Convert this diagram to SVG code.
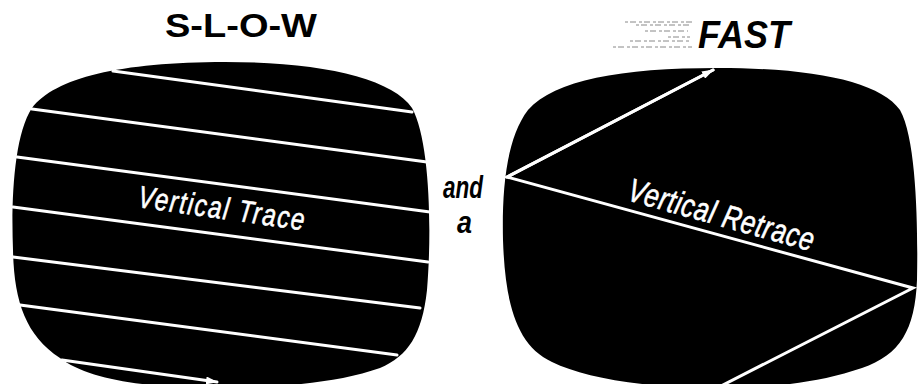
<svg xmlns="http://www.w3.org/2000/svg" width="918" height="384" viewBox="0 0 918 384">
  <style>
    .screen { fill: #000; }
    .trace { stroke: #fff; stroke-width: 3; fill: none; stroke-linecap: round; stroke-linejoin: miter; }
    .title { font-family: "Liberation Sans", Arial, sans-serif; font-weight: bold; fill: #000; }
    .label { font-family: "Liberation Sans", Arial, sans-serif; font-style: italic; fill: #fff; stroke: #fff; stroke-width: 0.6; }
    .conj { font-family: "Liberation Sans", Arial, sans-serif; font-style: italic; font-weight: bold; fill: #000; }
    .noise { stroke: #888; stroke-width: 1; stroke-dasharray: 3 2 6 3; }
  </style>
  <defs>
    <marker id="arrow" viewBox="0 0 12 8" refX="11" refY="4" markerWidth="12" markerHeight="8" markerUnits="userSpaceOnUse" orient="auto">
      <path d="M0,0 L12,4 L0,8 Z" fill="#fff"/>
    </marker>
  </defs>
  <rect width="918" height="384" fill="#fff"/>

  <g id="title-slow">
    <text class="title" x="165" y="37" font-size="34" textLength="152" lengthAdjust="spacingAndGlyphs">S-L-O-W</text>
  </g>

  <g id="title-fast">
    <g class="noise">
      <line x1="625" y1="22" x2="692" y2="22"/>
      <line x1="636" y1="25" x2="690" y2="25"/>
      <line x1="645" y1="31" x2="688" y2="31"/>
      <line x1="668" y1="37" x2="690" y2="37"/>
      <line x1="630" y1="41" x2="690" y2="41"/>
      <line x1="613" y1="47" x2="692" y2="47"/>
    </g>
    <text class="title" x="698" y="48" font-size="38" font-style="italic" textLength="92" lengthAdjust="spacingAndGlyphs">FAST</text>
  </g>

  <g id="and-a">
    <text class="conj" x="443" y="198" font-size="31" textLength="40" lengthAdjust="spacingAndGlyphs">and</text>
    <text class="conj" x="457" y="233" font-size="31" textLength="15" lengthAdjust="spacingAndGlyphs">a</text>
  </g>

  <g id="screen-slow">
    <path class="screen" d="M 225,62 C 320,62 392,78 412,108 C 430,140 432,230 427,290 C 422,335 408,356 380,368 C 335,384 270,388 215,388 C 150,388 88,380 60,358 C 25,335 14,300 13,250 C 11,200 14,135 32,108 C 55,78 120,62 225,62 Z"/>
    <g transform="translate(137 207) rotate(8) scale(0.78 1)">
      <text class="label" x="0" y="0" font-size="31" textLength="215" lengthAdjust="spacing">Vertical Trace</text>
    </g>
  </g>

  <g id="screen-fast">
    <path class="screen" d="M 718,68 C 815,68 880,82 900,110 C 917,140 918,230 917,280 C 915,330 900,355 862,368 C 815,384 765,388 718,388 C 645,388 585,378 552,362 C 515,345 505,300 503,240 C 502,195 505,140 528,110 C 555,80 620,68 718,68 Z"/>
    <g transform="translate(626 200) rotate(15.5) scale(0.78 1)">
      <text class="label" x="0" y="0" font-size="33" textLength="246" lengthAdjust="spacing">Vertical Retrace</text>
    </g>
  </g>

  <g id="connectors">
    <line class="trace" x1="113" y1="71" x2="412" y2="112"/>
    <line class="trace" x1="32" y1="109" x2="427" y2="162"/>
    <line class="trace" x1="17" y1="157" x2="430" y2="212"/>
    <line class="trace" x1="13" y1="207" x2="428" y2="262"/>
    <line class="trace" x1="13" y1="257" x2="420" y2="308"/>
    <line class="trace" x1="20" y1="305" x2="397" y2="355"/>
    <line class="trace" x1="62" y1="360" x2="217" y2="382" marker-end="url(#arrow)"/>
    <polyline class="trace" points="713,70 507,177 913,288 721,386"/>
    <line class="trace" x1="507" y1="177" x2="713" y2="70" marker-end="url(#arrow)"/>
  </g>
</svg>
